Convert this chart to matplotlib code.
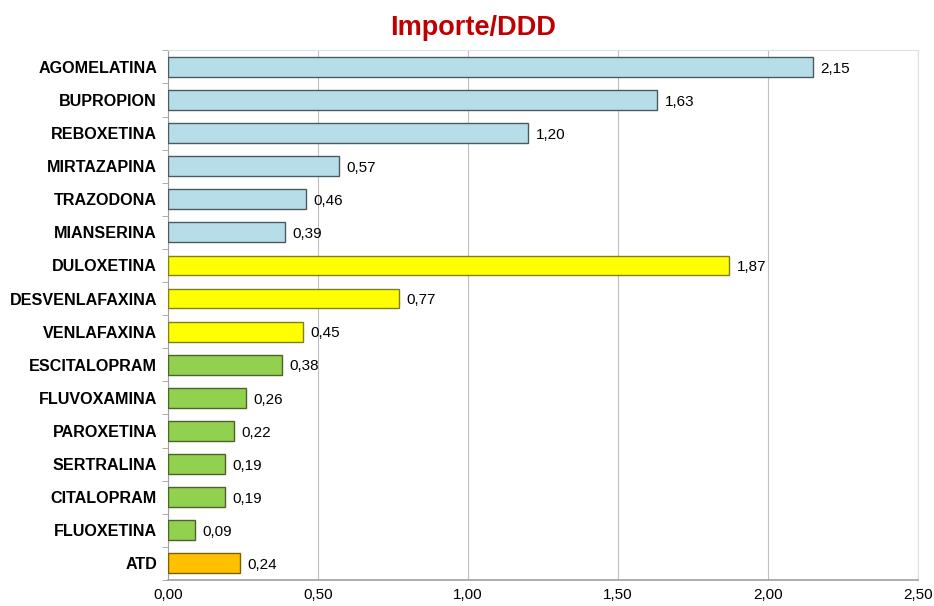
import matplotlib
matplotlib.use("Agg")
import matplotlib.pyplot as plt
from matplotlib.ticker import MultipleLocator, FuncFormatter

plt.rcParams['font.family'] = ['Liberation Sans Narrow', 'Liberation Sans', 'DejaVu Sans']

categories = ["AGOMELATINA", "BUPROPION", "REBOXETINA", "MIRTAZAPINA", "TRAZODONA",
              "MIANSERINA", "DULOXETINA", "DESVENLAFAXINA", "VENLAFAXINA", "ESCITALOPRAM",
              "FLUVOXAMINA", "PAROXETINA", "SERTRALINA", "CITALOPRAM", "FLUOXETINA", "ATD"]
values = [2.15, 1.63, 1.20, 0.57, 0.46, 0.39, 1.87, 0.77, 0.45, 0.38,
          0.26, 0.22, 0.19, 0.19, 0.09, 0.24]
groups = ["otros"] * 6 + ["snri"] * 3 + ["ssri"] * 6 + ["atd"]

fill = {"otros": "#B7DEE8", "snri": "#FFFF00", "ssri": "#92D050", "atd": "#FFC000"}
edge = {"otros": "#4A5A60", "snri": "#7F7F20", "ssri": "#4F6228", "atd": "#7F6000"}

fig = plt.figure(figsize=(9.34, 6.06), dpi=100)
ax = fig.add_axes([0.18, 0.043, 0.803, 0.874])

y = list(range(len(categories)))
ax.barh(y, values, height=0.6,
        color=[fill[g] for g in groups],
        edgecolor=[edge[g] for g in groups], linewidth=1.0, zorder=3)

for yi, v in zip(y, values):
    ax.text(v + 0.025, yi + 0.05, f"{v:.2f}".replace(".", ","), va="center", ha="left",
            fontsize=11, family=['Liberation Sans', 'DejaVu Sans'], color="#000000")

ax.set_yticks(y)
ax.set_yticklabels(categories, fontsize=11.6, fontweight="bold",
                   family=['Liberation Sans', 'DejaVu Sans'])
ax.set_ylim(len(categories) - 0.5, -0.5)
ax.set_xlim(0, 2.5)
ax.xaxis.set_major_locator(MultipleLocator(0.5))
ax.xaxis.set_major_formatter(FuncFormatter(lambda v, p: f"{v:.2f}".replace(".", ",")))
for lab in ax.get_xticklabels():
    lab.set_family(['Liberation Sans', 'DejaVu Sans'])
    lab.set_fontsize(11)

ax.grid(axis="x", color="#BFBFBF", linewidth=0.8, zorder=0)
ax.tick_params(axis="x", length=0, pad=6)
ax.set_yticks([i - 0.5 for i in range(len(categories) + 1)], minor=True)
ax.tick_params(axis="y", which="minor", length=4, color="#A0A0A0")
ax.tick_params(axis="y", which="major", length=0, pad=8)

for s in ["top", "right"]:
    ax.spines[s].set_color("#E0E0E0")
    ax.spines[s].set_linewidth(0.8)
ax.spines["left"].set_color("#A0A0A0")
ax.spines["bottom"].set_color("#A0A0A0")
ax.spines["bottom"].set_linewidth(1.2)

fig.text(0.507, 0.953, "Importe/DDD", ha="center", va="center", fontsize=19.5,
         fontweight="bold", color="#C00000")

fig.savefig("out.png", dpi=100)
